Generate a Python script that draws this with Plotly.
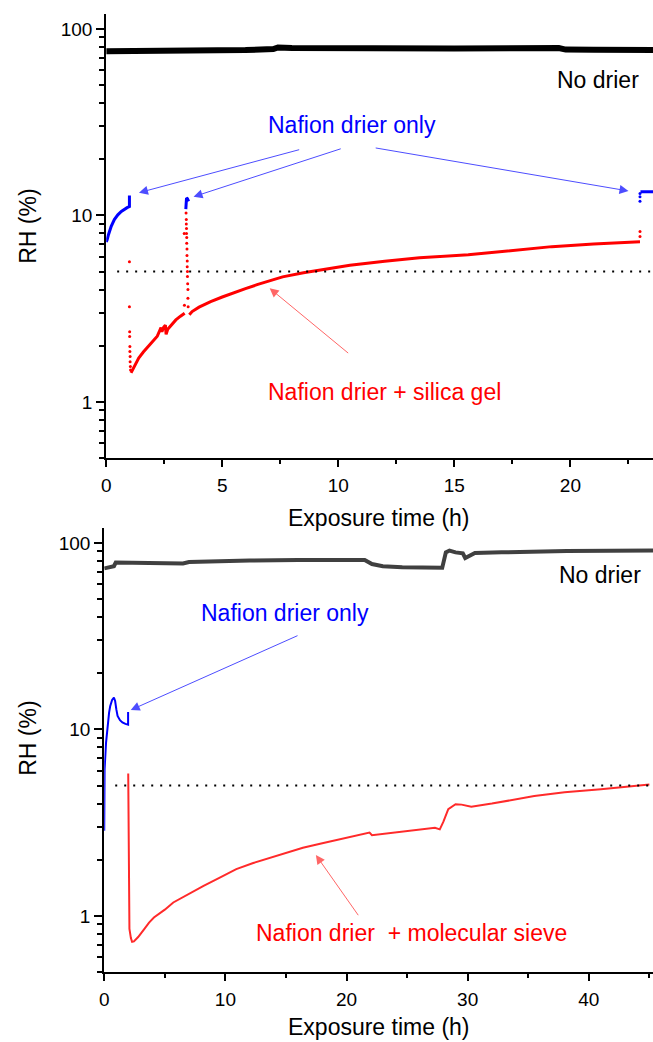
import plotly.graph_objects as go

W, H = 653, 1042
FONT = "Liberation Sans, Arial, sans-serif"

# ---------------- Panel A (Nafion drier + silica gel) ----------------
a_nodrier_t = [0, 2, 4, 6, 7.2, 7.4, 8, 10, 15, 19.5, 19.8, 21, 23.56]
a_nodrier_v = [75.8, 76.0, 76.3, 77.0, 78.0, 79.5, 79.0, 78.5, 78.5, 79.0, 77.5, 77.3, 77.0]

a_nafion1_t = [0.0, 0.04, 0.1, 0.21, 0.35, 0.5, 0.65, 0.78, 0.9, 1.0, 1.0]
a_nafion1_v = [7.2, 7.4, 7.9, 8.7, 9.5, 10.07, 10.5, 10.8, 11.0, 11.15, 12.8]
a_nafion2_t = [3.43, 3.44, 3.46, 3.50, 3.55]
a_nafion2_v = [10.8, 11.8, 12.4, 12.3, 11.9]
a_nafion3_t = [23.0, 23.0, 23.0, 23.02, 23.1, 23.3, 23.56]
a_nafion3_v = [11.9, 12.6, 13.1, 13.4, 13.4, 13.4, 13.4]

a_silica_t = [1.07, 1.2, 1.4, 1.6, 1.8, 2.0, 2.2, 2.3, 2.36, 2.40, 2.48, 2.55, 2.58, 2.65,
              2.8, 3.0, 3.2, 3.38]
a_silica_v = [1.43, 1.55, 1.72, 1.85, 1.98, 2.1, 2.25, 2.40, 2.50, 2.38, 2.52, 2.58, 2.30, 2.45,
              2.58, 2.75, 2.88, 2.99]
a_silica2_t = [3.58, 3.7, 4.0, 4.5, 5.0, 5.5, 6.0, 6.5, 7.0, 7.6, 8.5, 9.5, 10.5, 12.0,
               13.5, 15.6, 17.5, 19.2, 21.0, 23.0]
a_silica2_v = [2.93, 3.05, 3.22, 3.45, 3.65, 3.86, 4.05, 4.25, 4.45, 4.68, 4.92, 5.15, 5.4, 5.68,
               5.92, 6.15, 6.5, 6.8, 7.02, 7.23]
a_silica_dots_t = [1.0, 1.0, 1.01, 1.01, 1.02, 1.02, 1.03, 1.03, 1.04, 1.05,
                   3.36, 3.37, 3.44, 3.45, 3.45, 3.46, 3.46, 3.47, 3.47, 3.48, 3.48,
                   3.49, 3.49, 3.50, 3.50, 3.51, 3.52, 3.52, 3.53,
                   23.0, 23.0]
a_silica_dots_v = [5.65, 3.24, 2.38, 2.24, 1.98, 1.86, 1.75, 1.64, 1.55, 1.48,
                   8.0, 3.3, 10.3, 9.5, 9.0, 8.5, 8.0, 7.6, 7.1, 6.6, 6.1,
                   5.7, 5.3, 5.0, 4.7, 4.3, 4.0, 3.6, 3.24,
                   8.2, 7.7]

# ---------------- Panel B (Nafion drier + molecular sieve) ----------------
b_nodrier_t = [0, 0.5, 0.8, 0.95, 3, 5, 6.5, 7, 8.2, 12, 16, 21.5, 22.1, 23, 24.6, 27.6, 27.9,
               28.2, 28.5, 29.0, 29.6, 29.8, 30.3, 30.6, 32.8, 38.2, 45.3]
b_nodrier_v = [73, 74, 75, 78.5, 78, 77.5, 77.5, 79, 79.5, 80.5, 81, 81, 77, 75, 74, 73, 73.5,
               89, 91, 89, 88, 83, 86, 88.3, 89, 90.5, 91]

b_nafion_t = [0.0, 0.03, 0.15, 0.27, 0.4, 0.49, 0.65, 0.8, 0.9, 1.0, 1.1, 1.3, 1.5, 1.75,
              1.97, 1.97]
b_nafion_v = [2.86, 6.1, 8.5, 10.4, 12.3, 13.3, 14.4, 14.8, 14.2, 12.8, 11.8, 11.2, 10.9, 10.7,
              10.6, 12.4]

b_sieve_t = [1.98, 2.0, 2.03, 2.08, 2.2, 2.3, 2.45, 2.8, 3.3, 3.7, 4.1, 5.0, 5.7, 7.0, 8.2, 9.5,
             10.9, 12.3, 13.7, 15.0, 16.4, 18.0, 20.0, 21.5, 21.9, 22.1, 24.0, 27.3, 27.7,
             28.0, 28.4, 29.0, 29.5, 30.3, 32.0, 35.5, 38.0, 41.0, 45.0]
b_sieve_v = [5.8, 3.0, 1.2, 0.85, 0.76, 0.726, 0.73, 0.77, 0.85, 0.92, 0.98, 1.08, 1.18, 1.32,
             1.45, 1.6, 1.78, 1.92, 2.05, 2.18, 2.32, 2.45, 2.62, 2.75, 2.8, 2.71, 2.8, 2.97,
             2.91, 3.2, 3.73, 3.97, 3.95, 3.85, 4.0, 4.39, 4.6, 4.77, 5.07]

threshold_rh = 5

a_xticks = [0, 5, 10, 15, 20]
a_xminor = [2.5, 7.5, 12.5, 17.5, 22.5]
b_xticks = [0, 10, 20, 30, 40]
b_xminor = [5, 15, 25, 35, 45]
y_ticks = [1, 10, 100]
y_ticktext = ["1", "10", "100"]
y_minor = [0.5, 0.6, 0.7, 0.8, 0.9, 2, 3, 4, 5, 6, 7, 8, 9, 20, 30, 40, 50, 60, 70, 80, 90]

BLUE = "#0000ff"
RED = "#ff0000"

fig = go.Figure()

# Panel A traces
fig.add_trace(go.Scatter(x=a_nodrier_t, y=a_nodrier_v, mode="lines",
                         line=dict(color="#000000", width=6), xaxis="x", yaxis="y"))
for tt, vv in [(a_nafion1_t, a_nafion1_v), (a_nafion2_t, a_nafion2_v)]:
    fig.add_trace(go.Scatter(x=tt, y=vv, mode="lines", line=dict(color=BLUE, width=3),
                             xaxis="x", yaxis="y"))
fig.add_trace(go.Scatter(x=a_nafion3_t[3:], y=a_nafion3_v[3:], mode="lines",
                         line=dict(color=BLUE, width=3), xaxis="x", yaxis="y"))
fig.add_trace(go.Scatter(x=a_nafion3_t[:3], y=a_nafion3_v[:3], mode="markers",
                         marker=dict(color=BLUE, size=3), xaxis="x", yaxis="y"))
for tt, vv in [(a_silica_t, a_silica_v), (a_silica2_t, a_silica2_v)]:
    fig.add_trace(go.Scatter(x=tt, y=vv, mode="lines", line=dict(color=RED, width=3),
                             xaxis="x", yaxis="y"))
fig.add_trace(go.Scatter(x=a_silica_dots_t, y=a_silica_dots_v, mode="markers",
                         marker=dict(color=RED, size=3), xaxis="x", yaxis="y"))

# Panel B traces
fig.add_trace(go.Scatter(x=b_nodrier_t, y=b_nodrier_v, mode="lines",
                         line=dict(color="#404040", width=4), xaxis="x2", yaxis="y2"))
fig.add_trace(go.Scatter(x=b_nafion_t, y=b_nafion_v, mode="lines",
                         line=dict(color=BLUE, width=2), xaxis="x2", yaxis="y2"))
fig.add_trace(go.Scatter(x=b_sieve_t, y=b_sieve_v, mode="lines",
                         line=dict(color="#ff2a2a", width=2), xaxis="x2", yaxis="y2"))

# threshold dotted lines
fig.add_shape(type="line", xref="x domain", yref="y", x0=0.02, x1=1,
              y0=threshold_rh, y1=threshold_rh,
              line=dict(color="black", width=2, dash="2px,7px"))
fig.add_shape(type="line", xref="x2 domain", yref="y2", x0=0.02, x1=1,
              y0=threshold_rh, y1=threshold_rh,
              line=dict(color="black", width=2, dash="2px,7px"))


def xa(domain, rng, ticks, minor, anchor):
    return dict(domain=domain, range=rng, anchor=anchor, showline=True, linecolor="black",
                linewidth=2, ticks="outside", ticklen=7, tickwidth=2, tickcolor="black",
                tickvals=ticks, showgrid=False, zeroline=False, ticklabelstandoff=2,
                tickfont=dict(family=FONT, size=19, color="black"),
                minor=dict(tickvals=minor, ticks="outside", ticklen=4, tickwidth=2,
                           tickcolor="black", showgrid=False))


def ya(domain, anchor):
    return dict(domain=domain, type="log", range=[-0.301, 2.08], anchor=anchor, showline=True,
                linecolor="black", linewidth=2, ticks="outside", ticklen=8, tickwidth=2,
                tickcolor="black", tickvals=y_ticks, ticktext=y_ticktext, showgrid=False,
                zeroline=False, tickfont=dict(family=FONT, size=19, color="black"),
                minor=dict(tickvals=y_minor, ticks="outside", ticklen=5, tickwidth=2,
                           tickcolor="black", showgrid=False))


def px(v):
    return v / W


def py(v):
    return 1 - v / H


fig.update_layout(
    width=W, height=H, margin=dict(l=0, r=0, t=0, b=0),
    paper_bgcolor="white", plot_bgcolor="white", showlegend=False,
    font=dict(family=FONT, size=18, color="black"),
    xaxis=xa([px(102), 1], [0, 23.56], a_xticks, a_xminor, "y"),
    yaxis=ya([py(458), py(14)], "x"),
    xaxis2=xa([px(100), 1], [0, 45.3], b_xticks, b_xminor, "y2"),
    yaxis2=ya([py(972), py(528)], "x2"),
)

ann = []


def text(x, y, s, color, size=23, angle=0):
    ann.append(dict(xref="paper", yref="paper", x=px(x), y=py(y), text=s, showarrow=False,
                    xanchor="center", yanchor="middle", textangle=angle,
                    font=dict(family=FONT, size=size, color=color)))


def arrow(tipx, tipy, tailx, taily, color):
    ann.append(dict(xref="paper", yref="paper", x=px(tipx), y=py(tipy), ax=tailx - tipx,
                    ay=taily - tipy, text="", showarrow=True, arrowhead=2, arrowsize=1.8,
                    arrowwidth=1, arrowcolor=color, standoff=0))


# axis titles
text(23, 226, "RH (%)", "black", 23, -90)
text(23, 738, "RH (%)", "black", 23, -90)
text(377, 518, "Exposure time (h)", "black", 23)
text(377, 1027, "Exposure time (h)", "black", 23)

# panel A labels
text(350, 125, "Nafion drier only", BLUE)
text(598, 80, "No drier", "black")
text(382, 392, "Nafion drier + silica gel", RED)
arrow(135, 192.7, 296.7, 149.3, "#4d4dff")
arrow(190, 196.7, 338.7, 148.3, "#4d4dff")
arrow(628.3, 191, 374, 147.7, "#4d4dff")
arrow(266.7, 288.3, 346.7, 354.3, "#ff6666")

# panel B labels
text(600, 575, "No drier", "black")
text(282, 613, "Nafion drier only", BLUE)
text(410, 933, "Nafion drier  + molecular sieve", RED)
arrow(126.7, 710, 295, 635, "#4d4dff")
arrow(313.3, 855, 356.7, 916.7, "#ff6666")

fig.update_layout(annotations=ann)

fig.write_html("out.html", config={"displayModeBar": False},
               post_script="document.body.style.margin='0px';document.body.style.padding='0px';")
